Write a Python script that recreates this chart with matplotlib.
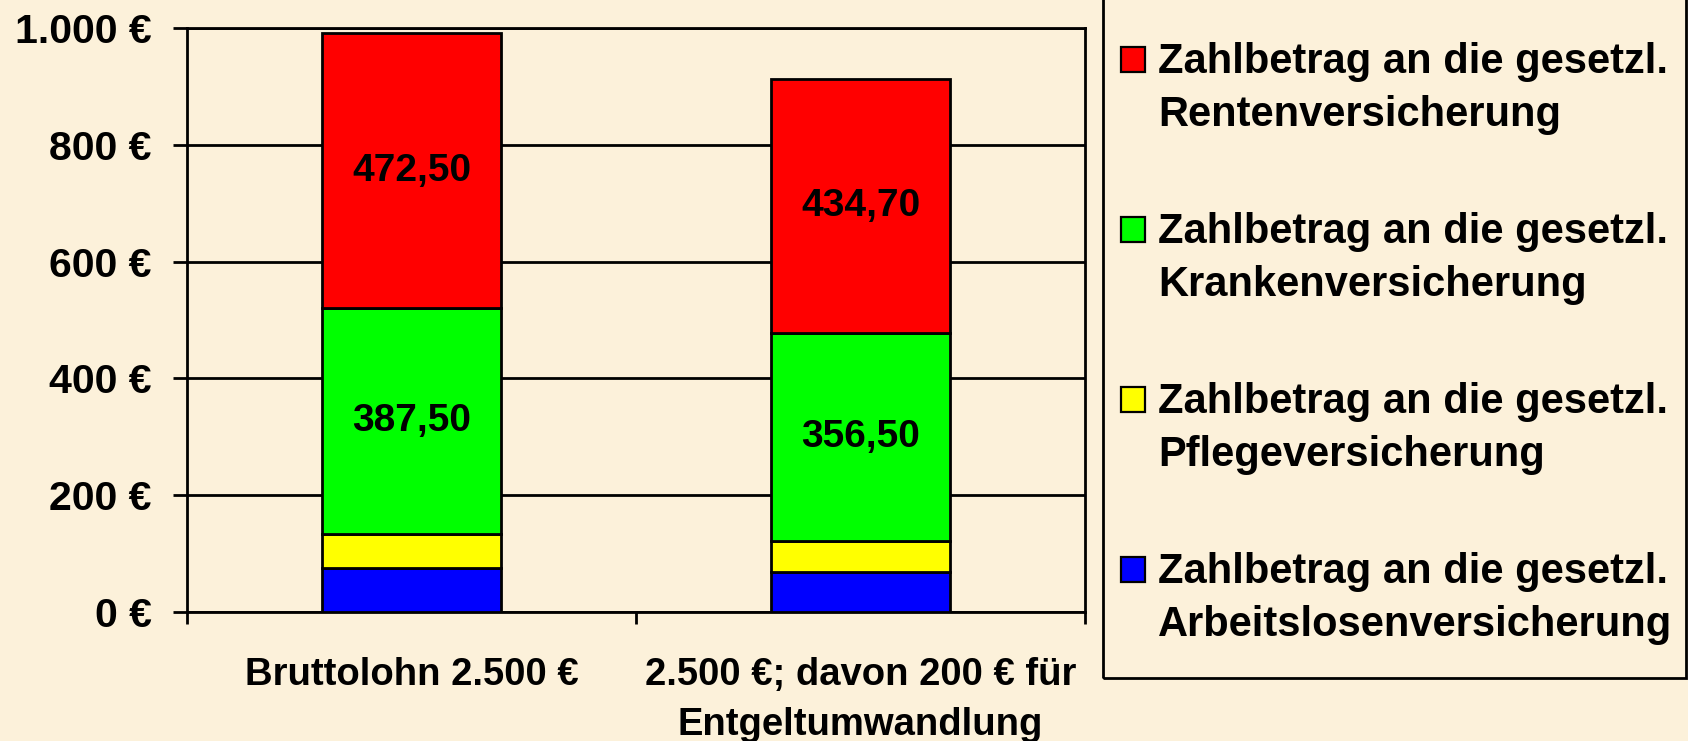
# -*- coding: utf-8 -*-
import numpy as np
import matplotlib
matplotlib.use("Agg")
import matplotlib.pyplot as plt
from matplotlib.patches import Rectangle
from matplotlib.ticker import FuncFormatter

# data (Euro per month)
categories = ["Bruttolohn 2.500 €", "2.500 €; davon 200 € für\nEntgeltumwandlung"]
arbeitslos = [75.00, 69.00]
pflege = [57.50, 52.90]
kranken = [387.50, 356.50]
rente = [472.50, 434.70]

# stacking order bottom -> top
series = [arbeitslos, pflege, kranken, rente]
names = ["Zahlbetrag an die gesetzl.\nArbeitslosenversicherung",
         "Zahlbetrag an die gesetzl.\nPflegeversicherung",
         "Zahlbetrag an die gesetzl.\nKrankenversicherung",
         "Zahlbetrag an die gesetzl.\nRentenversicherung"]
colors = ["#0000FF", "#FFFF00", "#00FF00", "#FF0000"]
show_values = [False, False, True, True]

W, H = 1688, 741
bg = "#FCF1DA"
lw = 2.0

plt.rcParams['font.family'] = ['Liberation Sans', 'DejaVu Sans']
plt.rcParams['font.weight'] = 'bold'

fig = plt.figure(figsize=(W / 100, H / 100), dpi=100, facecolor=bg)
ax = fig.add_axes([187 / W, 1 - 611.8 / H, (1085 - 187) / W, (611.8 - 28.3) / H])
ax.set_facecolor('none')

x = np.arange(len(categories))
bottom = np.zeros(len(categories))
for vals, col, name, show in zip(series, colors, names, show_values):
    bars = ax.bar(x, vals, 0.4, bottom=bottom, color=col, edgecolor='black',
                  linewidth=lw, label=name, zorder=3)
    if show:
        ax.bar_label(bars, labels=[("%.2f" % v).replace(".", ",") for v in vals],
                     label_type='center', fontsize=28, fontweight='bold', zorder=5)
    bottom += np.array(vals)

ax.set_xlim(-0.5, 1.5)
ax.set_ylim(0, 1000)
ax.set_yticks(np.arange(0, 1001, 200))
ax.yaxis.set_major_formatter(FuncFormatter(lambda v, p: "{:,.0f}".format(v).replace(",", ".") + " €"))
ax.yaxis.grid(True, color='black', linewidth=lw)
ax.set_axisbelow(True)
ax.tick_params(axis='y', length=10, width=lw, pad=15.5, labelsize=29.5)

# ticks between the categories, labels in the middle
ax.set_xticks([-0.5, 0.5, 1.5])
ax.set_xticklabels([])
ax.set_xticks(x, minor=True)
ax.set_xticklabels(categories, minor=True, fontsize=27.5, fontweight='bold', linespacing=1.5)
ax.tick_params(axis='x', which='major', length=8.6, width=lw)
ax.tick_params(axis='x', which='minor', length=0, pad=32.5)
for s in ax.spines.values():
    s.set_linewidth(lw)

# legend box, open at the top of the picture
fig.patches.append(Rectangle((1103 / W, 1 - 678 / H), (1686 - 1103) / W, 678 / H + 0.05,
                             transform=fig.transFigure, fill=False, edgecolor='black',
                             linewidth=lw, clip_on=False))
for i, (name, col) in enumerate(zip(names[::-1], colors[::-1])):
    top = 42 + i * 170
    fig.patches.append(Rectangle((1121 / W, 1 - (top + 30) / H), 24 / W, 25 / H,
                                 transform=fig.transFigure, facecolor=col,
                                 edgecolor='black', linewidth=1.6))
    fig.text(1158 / W, 1 - top / H, name, fontsize=30, fontweight='bold',
             va='top', ha='left', linespacing=1.42)

fig.savefig('out.png', dpi=100, facecolor=bg)
